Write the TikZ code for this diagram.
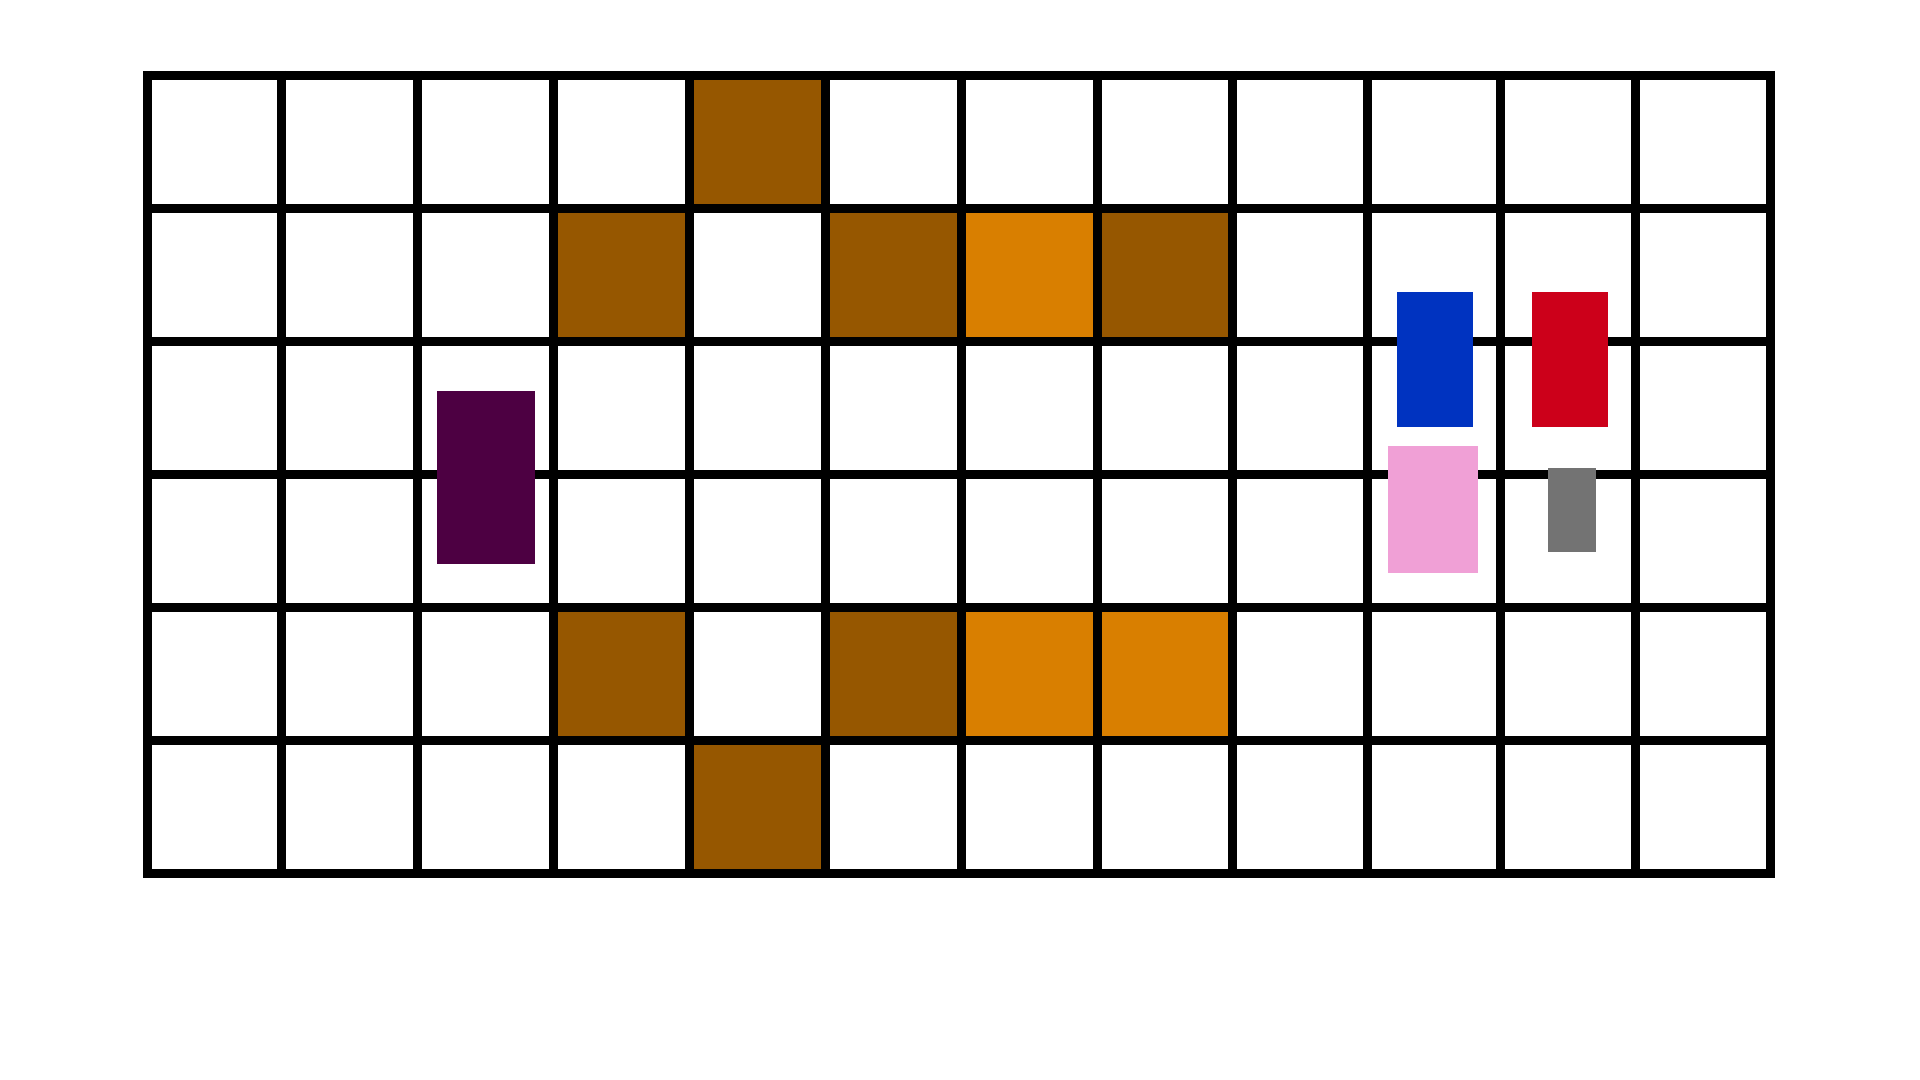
\documentclass[tikz,border=0pt]{standalone}
\definecolor{brownc}{RGB}{150,87,0}
\definecolor{orangec}{RGB}{217,127,0}
\definecolor{purplec}{RGB}{77,0,66}
\definecolor{bluec}{RGB}{0,51,192}
\definecolor{redc}{RGB}{204,0,26}
\definecolor{pinkc}{RGB}{240,160,214}
\definecolor{grayc}{RGB}{115,115,115}
\tikzset{gridline/.style={line width=0.09cm,black}}
\begin{document}
\begin{tikzpicture}[x=0.01cm,y=-0.01cm]
\useasboundingbox (0,0) rectangle (1920,1080);
\fill[white] (0,0) rectangle (1920,1080);
\def\colx{{147.5,281.5,417.5,553.5,689.5,825.5,961.5,1097.5,1232.5,1367.5,1500.5,1635.5,1770.5}}
\def\rh{133}
\newcommand{\cellfill}[3]{%
  \pgfmathsetmacro\xa{\colx[#1]}%
  \pgfmathsetmacro\xb{\colx[#1+1]}%
  \fill[#3] (\xa,{75.5+#2*\rh}) rectangle (\xb,{75.5+(#2+1)*\rh});}
\cellfill{4}{0}{brownc}
\cellfill{3}{1}{brownc}
\cellfill{5}{1}{brownc}
\cellfill{6}{1}{orangec}
\cellfill{7}{1}{brownc}
\cellfill{3}{4}{brownc}
\cellfill{5}{4}{brownc}
\cellfill{6}{4}{orangec}
\cellfill{7}{4}{orangec}
\cellfill{4}{5}{brownc}
\foreach \i in {0,...,12} {
  \pgfmathsetmacro\xx{\colx[\i]}
  \draw[gridline] (\xx,71) -- (\xx,878);
}
\foreach \j in {0,...,6} \draw[gridline] (143,{75.5+\j*\rh}) -- (1775,{75.5+\j*\rh});
\fill[purplec] (437,391) rectangle (535,564);
\fill[bluec] (1397,292) rectangle (1473,427);
\fill[redc] (1532,292) rectangle (1608,427);
\fill[pinkc] (1388,446) rectangle (1478,573);
\fill[grayc] (1548,468) rectangle (1596,552);
\end{tikzpicture}
\end{document}
